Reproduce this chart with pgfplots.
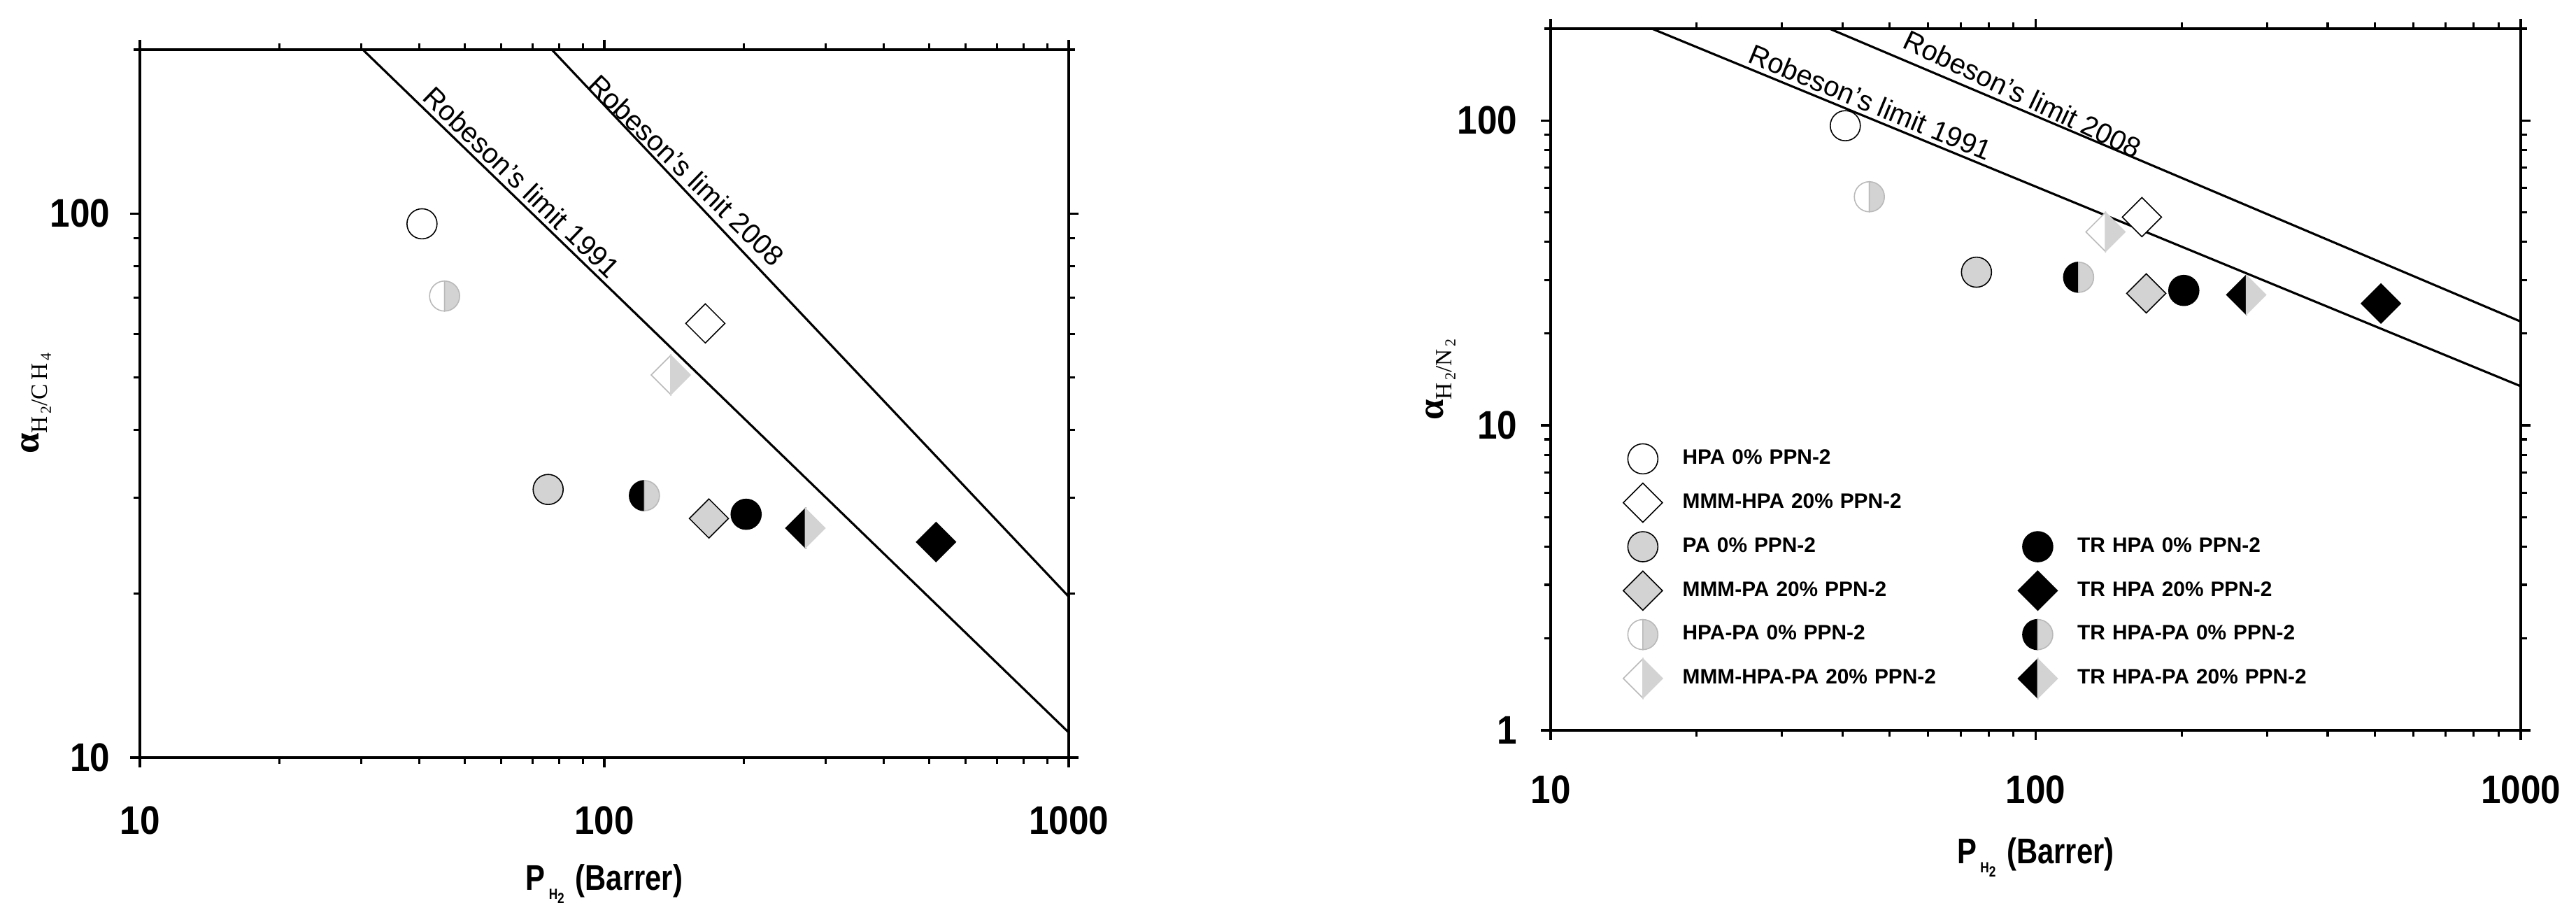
\documentclass[border=0pt]{standalone}
\usepackage{pgfplots}
\pgfplotsset{compat=1.18}
\usepackage{fontspec}
\setmainfont{Liberation Sans}
\newfontfamily\serifF{Liberation Serif}
\newfontfamily\condF{Liberation Sans}[FakeStretch=0.82]
\newfontfamily\tickF{Liberation Sans}[FakeStretch=0.9]
\definecolor{lg}{RGB}{211,211,211}
\definecolor{lgd}{RGB}{185,185,185}

\newcommand\cR{2.15mm}
\newcommand\dR{2.8mm}
\newcommand\halfcirc[5]{%
\pgfdeclareplotmark{#1}{%
 \pgfsetlinewidth{0.45pt}%
 \pgfsetfillcolor{#2}\pgfsetstrokecolor{#3}%
 \pgfpathmoveto{\pgfqpoint{0pt}{\cR}}%
 \pgfpatharc{90}{270}{\cR}%
 \pgfpathclose\pgfusepath{fill,stroke}%
 \pgfsetfillcolor{#4}\pgfsetstrokecolor{#5}%
 \pgfpathmoveto{\pgfqpoint{0pt}{-\cR}}%
 \pgfpatharc{-90}{90}{\cR}%
 \pgfpathclose\pgfusepath{fill,stroke}}}
\newcommand\halfdiam[5]{%
\pgfdeclareplotmark{#1}{%
 \pgfsetlinewidth{0.45pt}%
 \pgfsetfillcolor{#2}\pgfsetstrokecolor{#3}%
 \pgfpathmoveto{\pgfqpoint{0pt}{\dR}}%
 \pgfpathlineto{\pgfqpoint{-\dR}{0pt}}%
 \pgfpathlineto{\pgfqpoint{0pt}{-\dR}}%
 \pgfpathclose\pgfusepath{fill,stroke}%
 \pgfsetfillcolor{#4}\pgfsetstrokecolor{#5}%
 \pgfpathmoveto{\pgfqpoint{0pt}{\dR}}%
 \pgfpathlineto{\pgfqpoint{\dR}{0pt}}%
 \pgfpathlineto{\pgfqpoint{0pt}{-\dR}}%
 \pgfpathclose\pgfusepath{fill,stroke}}}
\newcommand\fullcirc[3]{%
\pgfdeclareplotmark{#1}{%
 \pgfsetlinewidth{0.45pt}%
 \pgfsetfillcolor{#2}\pgfsetstrokecolor{#3}%
 \pgfpathcircle{\pgfpointorigin}{\cR}%
 \pgfusepath{fill,stroke}}}
\newcommand\fulldiam[3]{%
\pgfdeclareplotmark{#1}{%
 \pgfsetlinewidth{0.45pt}%
 \pgfsetfillcolor{#2}\pgfsetstrokecolor{#3}%
 \pgfpathmoveto{\pgfqpoint{0pt}{\dR}}%
 \pgfpathlineto{\pgfqpoint{-\dR}{0pt}}%
 \pgfpathlineto{\pgfqpoint{0pt}{-\dR}}%
 \pgfpathlineto{\pgfqpoint{\dR}{0pt}}%
 \pgfpathclose\pgfusepath{fill,stroke}}}

\fullcirc{cW}{white}{black}
\fullcirc{cG}{lg}{black}
\fullcirc{cB}{black}{black}
\halfcirc{cWG}{white}{lgd}{lg}{lgd}
\halfcirc{cBG}{black}{black}{lg}{lgd}
\fulldiam{dW}{white}{black}
\fulldiam{dG}{lg}{black}
\fulldiam{dB}{black}{black}
\halfdiam{dWG}{white}{lgd}{lg}{lg}
\halfdiam{dBG}{black}{black}{lg}{lg}

\tikzset{rlab/.style={sloped, above, inner sep=1.5pt, font=\fontsize{11.4pt}{13pt}\selectfont}}

\newcommand\xlab{{\condF\bfseries P\hspace{0.5mm}\raisebox{-1.3mm}{\fontsize{6pt}{7pt}\selectfont H\raisebox{-0.6mm}{2}}\hspace{1.6mm}(Barrer)}}

\begin{document}
\begin{tikzpicture}
\path[use as bounding box] (0,0) rectangle (368.3mm,130.8mm);

% ---------- left: H2/CH4 ----------
\begin{axis}[
  xmode=log, ymode=log, scale only axis,
  xmin=10, xmax=1000, ymax=200, ymin=10,
  xtick={10,100,1000}, xticklabels={10,100,1000},
  minor xtick={20,30,40,50,60,70,80,90,200,300,400,500,600,700,800,900},
  ytick={10,100}, yticklabels={10,100},
  minor ytick={20,30,40,50,60,70,80,90,200},
  tick align=outside,
  major tick length=1.4mm, minor tick length=0.9mm,
  axis line style={line width=1pt},
  every tick/.style={line width=0.9pt, black},
  ticklabel style={font=\tickF\fontsize{16.2pt}{18pt}\selectfont\bfseries},
  xticklabel style={anchor=base, inner sep=0pt, yshift=-9.6mm},
  yticklabel style={anchor=east, inner sep=0pt, xshift=-2.8mm},
  at={(20.0mm,22.5mm)}, anchor=south west,
  width=132.8mm, height=101.2mm,
  xlabel={\xlab},
  xlabel style={at={(axis description cs:0.5,-0.1877)}, anchor=base, font=\fontsize{14.5pt}{16pt}\selectfont},
  ylabel={{\serifF\bfseries\fontsize{15pt}{16pt}\selectfont α}\raisebox{-1.2mm}{\serifF\fontsize{9.5pt}{10pt}\selectfont H\raisebox{-0.5mm}{\fontsize{6.2pt}{7pt}\selectfont\,2}/C\,H\raisebox{-0.5mm}{\fontsize{6.2pt}{7pt}\selectfont\,4}}},
  ylabel style={at={(axis description cs:-0.1115,0.5)}, anchor=center},
]
\addplot[black, line width=0.9pt, no marks] coordinates {(30.2,200) (1000,11.12)} node[rlab, pos=0.21] {Robeson's limit 1991};
\addplot[black, line width=0.9pt, no marks] coordinates {(77.1,200) (1000,19.76)} node[rlab, pos=0.24, rotate=2.5] {Robeson's limit 2008};
\addplot[only marks, mark=cW]  coordinates {(40.5,95.7)};
\addplot[only marks, mark=cWG] coordinates {(45.3,70.5)};
\addplot[only marks, mark=dW]  coordinates {(165,62.8)};
\addplot[only marks, mark=dWG] coordinates {(139,50.5)};
\addplot[only marks, mark=cG]  coordinates {(75.7,31.1)};
\addplot[only marks, mark=cBG] coordinates {(122,30.3)};
\addplot[only marks, mark=dG]  coordinates {(168,27.5)};
\addplot[only marks, mark=cB]  coordinates {(202,28.0)};
\addplot[only marks, mark=dBG] coordinates {(271,26.4)};
\addplot[only marks, mark=dB]  coordinates {(518,24.9)};
\end{axis}

% ---------- right: H2/N2 ----------
\begin{axis}[
  xmode=log, ymode=log, scale only axis,
  xmin=10, xmax=1000, ymax=200, ymin=1,
  xtick={10,100,1000}, xticklabels={10,100,1000},
  minor xtick={20,30,40,50,60,70,80,90,200,300,400,500,600,700,800,900},
  ytick={1,10,100}, yticklabels={1,10,100},
  minor ytick={2,3,4,5,6,7,8,9,20,30,40,50,60,70,80,90,200},
  tick align=outside,
  major tick length=1.4mm, minor tick length=0.9mm,
  axis line style={line width=1pt},
  every tick/.style={line width=0.9pt, black},
  ticklabel style={font=\tickF\fontsize{16.2pt}{18pt}\selectfont\bfseries},
  xticklabel style={anchor=base, inner sep=0pt, yshift=-9.1mm},
  yticklabel style={anchor=east, inner sep=0pt, xshift=-3.3mm},
  at={(221.7mm,26.4mm)}, anchor=south west,
  width=138.7mm, height=100.3mm,
  xlabel={\xlab},
  xlabel style={at={(axis description cs:0.5,-0.19)}, anchor=base, font=\fontsize{14.5pt}{16pt}\selectfont},
  ylabel={{\serifF\bfseries\fontsize{15pt}{16pt}\selectfont α}\raisebox{-1.2mm}{\serifF\fontsize{9.5pt}{10pt}\selectfont H\raisebox{-0.5mm}{\fontsize{6.2pt}{7pt}\selectfont\,2}/N\raisebox{-0.5mm}{\fontsize{6.2pt}{7pt}\selectfont\,2}}},
  ylabel style={at={(axis description cs:-0.1132,0.5)}, anchor=center},
  legend image code/.code={\draw[#1, only marks] plot coordinates {(0cm,0cm)};},
  legend columns=2,
  legend style={at={(0.0743,0.4182)}, anchor=north west, draw=none, fill=none,
    inner sep=0pt, outer sep=0pt, row sep=0pt,
    font=\fontsize{8.5pt}{9pt}\selectfont\bfseries,
    nodes={inner sep=0pt, minimum height=6.28mm, anchor=west},
    /tikz/every odd column/.append style={column sep=2.8mm},
    /tikz/every even column/.append style={column sep=3.9mm, text width=44mm},
  },
]
\addplot[black, line width=0.9pt, no marks, forget plot] coordinates {(16.17,200) (1000,13.44)} node[rlab, pos=0.245] {Robeson's limit 1991};
\addplot[black, line width=0.9pt, no marks, forget plot] coordinates {(37.57,200) (1000,21.9)} node[rlab, pos=0.27, rotate=-2.5] {Robeson's limit 2008};
\addplot[only marks, mark=cW, forget plot]  coordinates {(40.5,96.1)};
\addplot[only marks, mark=cWG, forget plot] coordinates {(45.4,56.2)};
\addplot[only marks, mark=dW, forget plot]  coordinates {(165.6,48.2)};
\addplot[only marks, mark=dWG, forget plot] coordinates {(139.3,43.1)};
\addplot[only marks, mark=cG, forget plot]  coordinates {(75.5,31.8)};
\addplot[only marks, mark=cBG, forget plot] coordinates {(122.6,30.6)};
\addplot[only marks, mark=dG, forget plot]  coordinates {(169,27.1)};
\addplot[only marks, mark=cB, forget plot]  coordinates {(202,27.7)};
\addplot[only marks, mark=dBG, forget plot] coordinates {(271.7,26.8)};
\addplot[only marks, mark=dB, forget plot]  coordinates {(515,25.1)};

\addlegendimage{only marks, mark=cW}\addlegendentry{HPA 0\% PPN-2}
\addlegendimage{empty legend}\addlegendentry{}
\addlegendimage{only marks, mark=dW}\addlegendentry{MMM-HPA 20\% PPN-2}
\addlegendimage{empty legend}\addlegendentry{}
\addlegendimage{only marks, mark=cG}\addlegendentry{PA 0\% PPN-2}
\addlegendimage{only marks, mark=cB}\addlegendentry{TR HPA 0\% PPN-2}
\addlegendimage{only marks, mark=dG}\addlegendentry{MMM-PA 20\% PPN-2}
\addlegendimage{only marks, mark=dB}\addlegendentry{TR HPA 20\% PPN-2}
\addlegendimage{only marks, mark=cWG}\addlegendentry{HPA-PA 0\% PPN-2}
\addlegendimage{only marks, mark=cBG}\addlegendentry{TR HPA-PA 0\% PPN-2}
\addlegendimage{only marks, mark=dWG}\addlegendentry{MMM-HPA-PA 20\% PPN-2}
\addlegendimage{only marks, mark=dBG}\addlegendentry{TR HPA-PA 20\% PPN-2}
\end{axis}
\end{tikzpicture}
\end{document}
